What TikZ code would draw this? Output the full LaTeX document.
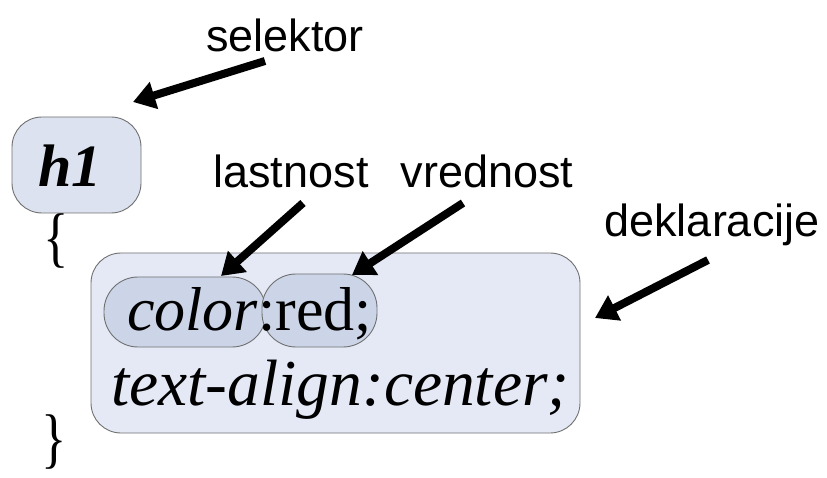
\documentclass[tikz,border=0pt]{standalone}
\usepackage{fontspec}
\setmainfont{Liberation Serif}
\setsansfont{Liberation Sans}
\usetikzlibrary{arrows.meta}
\definecolor{selfill}{HTML}{DCE2F0}
\definecolor{declfill}{HTML}{E4E9F5}
\definecolor{pillfill}{HTML}{CCD5E8}
\definecolor{edgegray}{HTML}{707070}
\tikzset{
  rulebox/.style={draw=edgegray, line width=0.9pt, inner sep=0pt},
  pill/.style={rulebox, fill=pillfill, rounded corners=34pt},
  label/.style={font=\sffamily\fontsize{45}{54}\selectfont, inner sep=0pt, anchor=base},
  css/.style={font=\fontsize{62}{74}\selectfont, inner sep=0pt, anchor=base west},
  brace/.style={font=\fontsize{66}{78}\selectfont, inner sep=0pt, anchor=base, xscale=0.8},
  bigarrow/.style={line width=8pt, -{Triangle[length=22pt,width=27pt]}}
}
\begin{document}
\begin{tikzpicture}[x=1pt,y=1pt]
   \useasboundingbox (0,0) rectangle (827,477);

   \node[rulebox, fill=selfill, rounded corners=30pt, minimum width=129, minimum height=96] (selbox) at (76.5,312) {};
   \node[inner sep=0pt, anchor=base, font=\fontsize{60}{72}\selectfont\bfseries\itshape] (h1) at (70,290) {h1};
   \node[brace] (lbrace) at (56,217) {\{};
   \node[brace] (rbrace) at (54,17) {\}};

   \node[rulebox, fill=declfill, rounded corners=30pt, minimum width=489, minimum height=180] (declbox) at (335.5,134) {};
   \node[pill, minimum width=162, minimum height=70] (prop) at (185,165) {};
   \node[pill, minimum width=115, minimum height=73] (val) at (319.5,166.5) {};
   \node[css] (line1) at (127,147) {\textit{color}:red;};
   \node[css, font=\fontsize{65.5}{78}\selectfont\itshape] (line2) at (111,72) {text-align:center;};

   \node[label] (selektor) at (285,425) {selektor};
   \node[label] (lastnost) at (291,289) {lastnost};
   \node[label] (vrednost) at (487,289) {vrednost};
   \node[label] (deklaracije) at (712,240) {deklaracije};

   \coordinate (selTail) at (265,416);
   \coordinate (selTip) at (133,375);
   \coordinate (propTail) at (303,274);
   \coordinate (propTip) at (221,201);
   \coordinate (valTail) at (463,274);
   \coordinate (valTip) at (352,202);
   \coordinate (declTail) at (708,217);
   \coordinate (declTip) at (595,159);

   \draw[bigarrow] (selTail) -- (selTip);
   \draw[bigarrow] (propTail) -- (propTip);
   \draw[bigarrow] (valTail) -- (valTip);
   \draw[bigarrow] (declTail) -- (declTip);
\end{tikzpicture}
\end{document}
